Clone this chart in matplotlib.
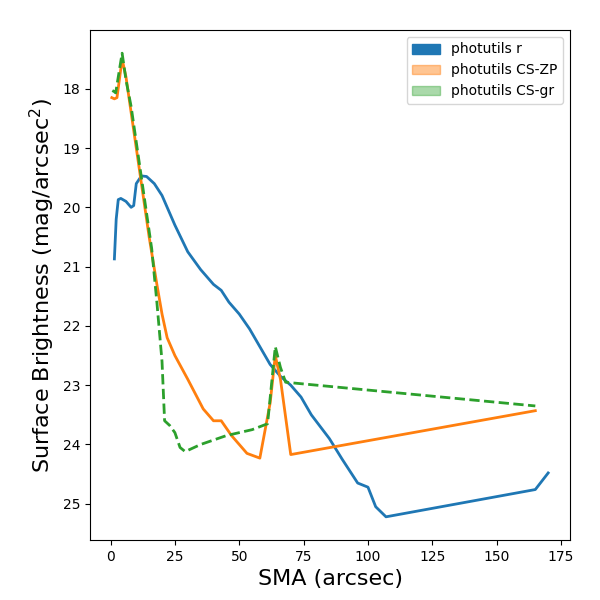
import matplotlib
matplotlib.use("Agg")
import matplotlib.pyplot as plt
from matplotlib.patches import Patch

r_x = [1.5,2.2,3,4,6,8,9,10,12,14,17,20,25,30,35,40,43,46,50,54,58,62,66,70,74,78,85,90,96,100,103,107,165,170]
r_y = [20.87,20.2,19.87,19.85,19.9,20.0,19.97,19.6,19.47,19.48,19.6,19.8,20.3,20.75,21.05,21.3,21.4,21.6,21.8,22.05,22.35,22.65,22.85,23.0,23.2,23.5,23.9,24.25,24.65,24.72,25.05,25.22,24.76,24.48]
zp_x = [0.5,1.5,2.5,4.5,6,8,10,12,15,18,20,22,25,30,33,36,40,43,47,51,53,58,62,64,66,70,165]
zp_y = [18.15,18.17,18.15,17.5,17.8,18.4,19.0,19.6,20.5,21.3,21.8,22.2,22.5,22.9,23.15,23.4,23.6,23.6,23.85,24.05,24.15,24.23,23.3,22.5,22.9,24.17,23.43]
gr_x = [0.7,1.5,2,4.5,6,8,10,13,16,18,20,21,23,25,27,29,35,45,55,61,64,66,68,165]
gr_y = [18.03,18.05,18.07,17.4,17.85,18.3,18.9,19.8,20.7,21.6,22.6,23.6,23.68,23.8,24.05,24.12,24.0,23.85,23.75,23.65,22.35,22.7,22.95,23.35]

fig, ax = plt.subplots(figsize=(6,6), dpi=100)
ax.plot(r_x, r_y, color='#1f77b4', lw=2)
ax.plot(zp_x, zp_y, color='#ff7f0e', lw=2)
ax.plot(gr_x, gr_y, color='#2ca02c', lw=2, ls='--')
ax.invert_yaxis()
ax.set_xlabel('SMA (arcsec)', fontsize=16)
ax.set_ylabel('Surface Brightness (mag/arcsec$^2$)', fontsize=16)
handles = [Patch(color='#1f77b4', label='photutils r'),
           Patch(color='#ff7f0e', alpha=0.45, label='photutils CS-ZP'),
           Patch(color='#2ca02c', alpha=0.4, label='photutils CS-gr')]
ax.legend(handles=handles, loc='upper right')
fig.subplots_adjust(left=0.15, right=0.95, bottom=0.1, top=0.95)
fig.savefig('out.png')
